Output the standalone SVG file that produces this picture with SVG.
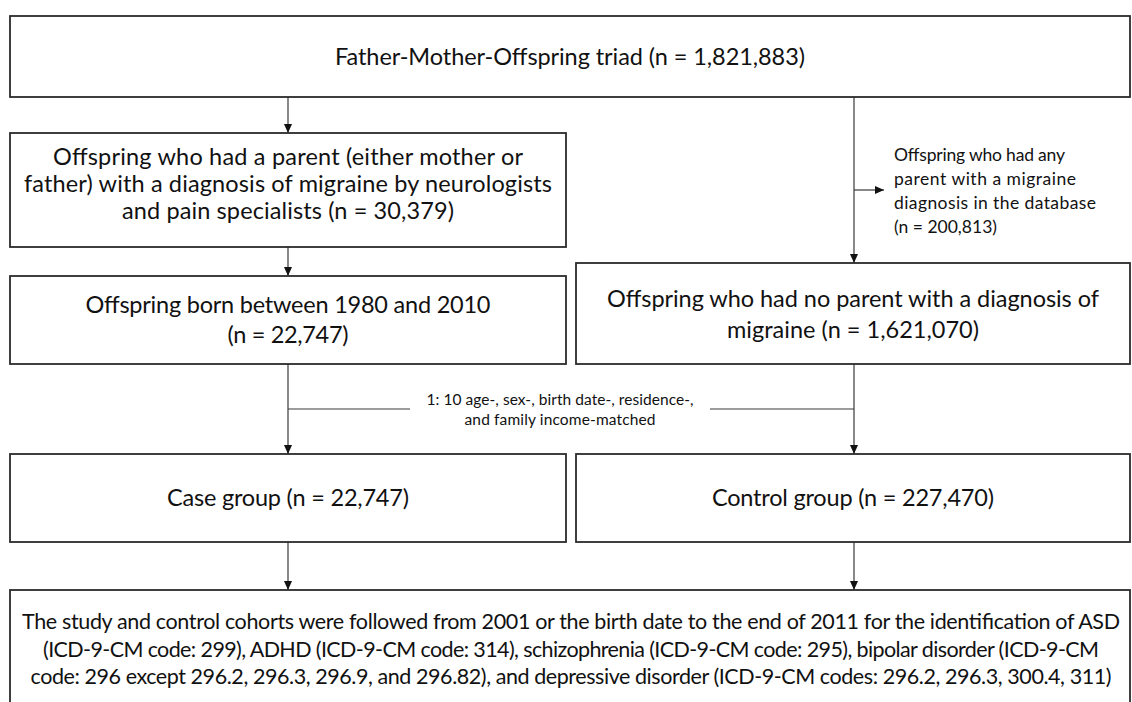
<svg xmlns="http://www.w3.org/2000/svg" width="1132" height="702" viewBox="0 0 1132 702">
<style>
.box{fill:#fff;stroke:#2b2b2b;stroke-width:1.8}
.con{fill:none;stroke:#3a3a3a;stroke-width:1.2}
text{font-family:Lato,"Liberation Sans",sans-serif;fill:#111;text-anchor:middle}
.big{font-size:23.5px}
.bot{font-size:21.5px}
.med{font-size:17.5px;text-anchor:start}
.sm{font-size:15.5px}
</style>
<defs>
<marker id="ah" markerUnits="userSpaceOnUse" markerWidth="10" markerHeight="10" refX="9" refY="5" orient="auto">
<path d="M0,1 L9,5 L0,9 Z" fill="#111"/>
</marker>
</defs>
<rect width="1132" height="702" fill="#fff"/>
<g id="connectors">
<line class="con" x1="288" y1="97" x2="288" y2="133" marker-end="url(#ah)"/>
<line class="con" x1="854" y1="97" x2="854" y2="263" marker-end="url(#ah)"/>
<line class="con" x1="854" y1="190" x2="884" y2="190" marker-end="url(#ah)"/>
<line class="con" x1="288" y1="247" x2="288" y2="276" marker-end="url(#ah)"/>
<line class="con" x1="288" y1="364" x2="288" y2="454" marker-end="url(#ah)"/>
<line class="con" x1="854" y1="364" x2="854" y2="454" marker-end="url(#ah)"/>
<line class="con" x1="288" y1="409" x2="410" y2="409"/>
<line class="con" x1="710" y1="409" x2="854" y2="409"/>
<line class="con" x1="288" y1="542" x2="288" y2="590" marker-end="url(#ah)"/>
<line class="con" x1="854" y1="542" x2="854" y2="590" marker-end="url(#ah)"/>
</g>
<g id="n-triad">
<rect class="box" x="10" y="16" width="1120" height="81"/>
<text class="big" x="570" y="65" textLength="470">Father-Mother-Offspring triad (n = 1,821,883)</text>
</g>
<g id="n-parent-migraine">
<rect class="box" x="10" y="133" width="556" height="114"/>
<text class="big" x="288" y="165" textLength="470">Offspring who had a parent (either mother or</text>
<text class="big" x="288" y="192" textLength="528">father) with a diagnosis of migraine by neurologists</text>
<text class="big" x="288" y="219" textLength="332">and pain specialists  (n = 30,379)</text>
</g>
<g id="n-any-parent">
<text class="med" x="894" y="161" textLength="171">Offspring who had any</text>
<text class="med" x="894" y="185" textLength="182">parent with a migraine</text>
<text class="med" x="894" y="209" textLength="202">diagnosis in the database</text>
<text class="med" x="894" y="233">(n = 200,813)</text>
</g>
<g id="n-born">
<rect class="box" x="10" y="276" width="556" height="88"/>
<text class="big" x="288" y="313" textLength="405">Offspring born between 1980 and 2010</text>
<text class="big" x="288" y="343" textLength="121">(n = 22,747)</text>
</g>
<g id="n-no-parent">
<rect class="box" x="576" y="263" width="554" height="101"/>
<text class="big" x="853" y="307" textLength="492">Offspring who had no parent with a diagnosis of</text>
<text class="big" x="853" y="338" textLength="252">migraine (n = 1,621,070)</text>
</g>
<g id="n-matched">
<text class="sm" x="560" y="405" textLength="267">1: 10 age-, sex-, birth date-, residence-,</text>
<text class="sm" x="560" y="425" textLength="191">and family income-matched</text>
</g>
<g id="n-case">
<rect class="box" x="10" y="454" width="556" height="88"/>
<text class="big" x="288" y="506" textLength="242">Case group (n = 22,747)</text>
</g>
<g id="n-control">
<rect class="box" x="576" y="454" width="554" height="88"/>
<text class="big" x="853" y="506" textLength="282">Control group (n = 227,470)</text>
</g>
<g id="n-followup">
<rect class="box" x="10" y="590" width="1120" height="120"/>
<text class="bot" x="571" y="629" textLength="1098">The study and control cohorts were followed from 2001 or the birth date to the end of 2011 for the identification of ASD</text>
<text class="bot" x="571" y="657" textLength="1056">(ICD-9-CM code: 299), ADHD (ICD-9-CM code: 314), schizophrenia (ICD-9-CM code: 295), bipolar disorder (ICD-9-CM</text>
<text class="bot" x="571" y="684" textLength="1081">code: 296 except 296.2, 296.3, 296.9, and 296.82), and depressive disorder (ICD-9-CM codes: 296.2, 296.3, 300.4, 311)</text>
</g>
</svg>
